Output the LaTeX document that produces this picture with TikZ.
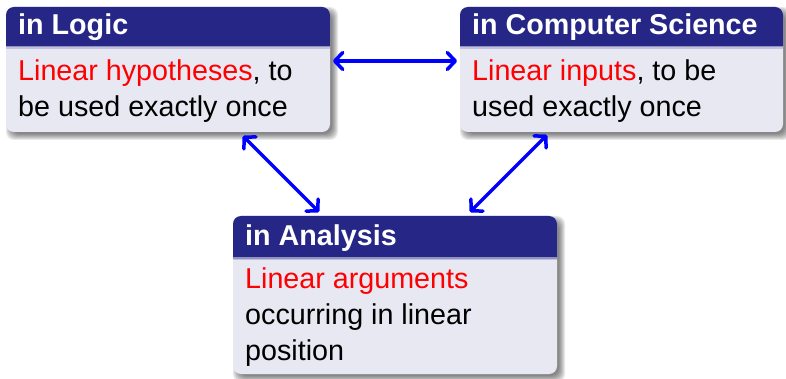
\documentclass[tikz,border=0pt]{standalone}
\usepackage{fontspec}
\setmainfont{Liberation Sans}
\usetikzlibrary{arrows.meta}

\definecolor{titlebg}{RGB}{38,38,134}
\definecolor{bodybg}{RGB}{232,232,243}
\definecolor{linkblue}{RGB}{0,0,255}

% A rounded block with a dark title bar, a light body and a soft shadow.
% #1 name, #2 left, #3 top, #4 right, #5 bottom, #6 bottom of the title bar
\newcommand\roundblock[6]{%
  \pgfmathsetmacro\bw{#4-#2}\pgfmathsetmacro\bh{#5-#3}%
  \pgfmathsetmacro\bcx{(#2+#4)/2}\pgfmathsetmacro\bcy{(#3+#5)/2}%
  \foreach \e in {4,3,2,1,0,-1,-2}{%
    \fill[black,opacity=0.085,rounded corners=8pt]
      (#2+4-\e,#3+4-\e) rectangle (#4+4+\e,#5+4+\e);
  }%
  \fill[bodybg,rounded corners=8pt] (#2,#3) rectangle (#4,#5);
  \begin{scope}
    \clip (#2,#3) rectangle (#4,#6);
    \fill[titlebg,rounded corners=8pt] (#2,#3) rectangle (#4,#5);
  \end{scope}
  \fill[titlebg!45!bodybg] (#2,#6) rectangle (#4,#6+1.5);
  \fill[titlebg!20!bodybg] (#2,#6+1.5) rectangle (#4,#6+3);
  \node[blockframe,minimum width=\bw pt,minimum height=\bh pt] (#1) at (\bcx,\bcy) {};
}

\tikzset{
  blockframe/.style={inner sep=0pt,outer sep=0pt,draw=none},
  ttl/.style={anchor=base west,inner sep=0pt,text=white,
    font=\fontsize{28.7}{36}\selectfont\bfseries},
  txt/.style={anchor=base west,inner sep=0pt,text=black,
    font=\fontsize{28.7}{36}\selectfont},
  link/.style={draw=linkblue,line width=3.5pt,line cap=round,line join=round,
    {Straight Barb[length=8pt,width=17pt,line cap=round,line join=round]}-{Straight Barb[length=8pt,width=17pt,line cap=round,line join=round]}},
}

\begin{document}
\begin{tikzpicture}[x=1pt,y=-1pt]
  \useasboundingbox (0,0) rectangle (786,379);

  % the three blocks
  \roundblock{logic}{6}{7}{330}{132}{46}
  \roundblock{cs}{460}{7}{783}{132}{46}
  \roundblock{analysis}{233}{216}{557}{374}{257}

  % texts of the first block
  \node[ttl] (logicT) at (18,35) {in Logic};
  \node[txt] (logic1) at (18,81) {\textcolor{red}{Linear hypotheses}, to};
  \node[txt] (logic2) at (18,117) {be used exactly once};

  % texts of the second block
  \node[ttl] (csT) at (472,35) {in Computer Science};
  \node[txt] (cs1) at (472,81) {\textcolor{red}{Linear inputs}, to be};
  \node[txt] (cs2) at (472,117) {used exactly once};

  % texts of the third block
  \node[ttl] (anT) at (245,245) {in Analysis};
  \node[txt] (an1) at (245,288) {\textcolor{red}{Linear arguments}};
  \node[txt] (an2) at (245,324) {occurring in linear};
  \node[txt] (an3) at (245,360) {position};

  % two-way links between the blocks
  \draw[link] ([xshift=3pt,yshift=8.5pt]logic.east) -- ([xshift=-3pt,yshift=8.5pt]cs.west);
  \draw[link] ([xshift=75pt,yshift=-4pt]logic.south) -- ([xshift=-76pt,yshift=4pt]analysis.north);
  \draw[link] ([xshift=-74.5pt,yshift=-3pt]cs.south) -- ([xshift=75pt,yshift=4pt]analysis.north);
\end{tikzpicture}
\end{document}
